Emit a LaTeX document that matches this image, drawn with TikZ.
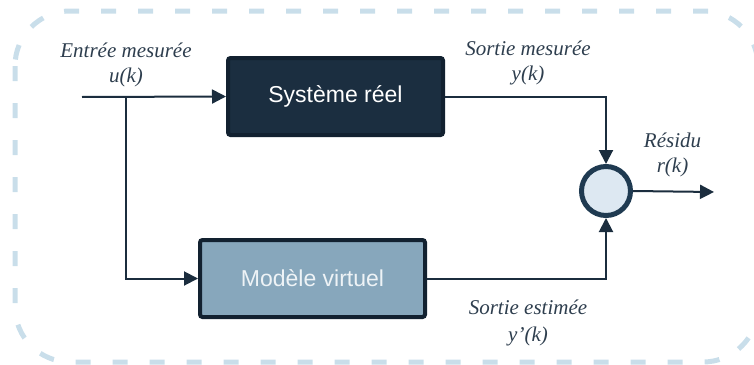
\documentclass[tikz,border=0pt]{standalone}
\usepackage{fontspec}
\setmainfont{Liberation Serif}
\setsansfont{Liberation Sans}
\usetikzlibrary{arrows.meta}
\definecolor{navy}{HTML}{1B2E40}
\definecolor{navyborder}{HTML}{122130}
\definecolor{slate}{HTML}{87A7BC}
\definecolor{wire}{HTML}{1B2D3E}
\definecolor{frame}{HTML}{C9DEEA}
\definecolor{labeltxt}{HTML}{2E3E4E}
\definecolor{sumfill}{HTML}{DDE8F2}
\definecolor{sumdraw}{HTML}{1F3A51}
\definecolor{modtxt}{HTML}{EEF3F6}
\tikzset{
  blockbox/.style={draw=navyborder, line width=4pt, rounded corners=2.5pt,
    font=\sffamily\fontsize{23}{27}\selectfont, inner sep=0pt},
  sigtext/.style={font=\itshape\fontsize{21}{25}\selectfont, text=labeltxt, align=center, inner sep=0pt},
  wireline/.style={draw=wire, line width=2pt},
  arr/.style={wireline, -{Triangle[length=14pt,width=14pt]}},
}
\begin{document}
\begin{tikzpicture}[x=1pt,y=-1pt]
\useasboundingbox (0,0) rectangle (754,364);
\draw[frame, line width=5pt, rounded corners=55pt, dash pattern=on 15pt off 22pt] (15,11) rectangle (758,362);

\node[blockbox, fill=navy, text=white, minimum width=215pt, minimum height=77pt] (sys) at (335.5,96.5) {Système réel};
\node[blockbox, fill=slate, text=modtxt, minimum width=225pt, minimum height=77pt] (mod) at (312.5,278.5) {Modèle virtuel};
\node[circle, draw=sumdraw, fill=sumfill, line width=5pt, minimum size=49pt, inner sep=0pt] (sum) at (606,191) {};

\node[sigtext] (lin) at (126,65) {Entrée mesurée\\u(k)};
\node[sigtext] (lout) at (528,63) {Sortie mesurée\\y(k)};
\node[sigtext] (lres) at (672.5,155) {Résidu\\r(k)};
\node[sigtext, font=\itshape\fontsize{21}{27}\selectfont] (lest) at (528,323) {Sortie estimée\\y’(k)};

\coordinate (in) at (82,97);
\coordinate (branch) at (126,98);
\coordinate (out) at (714,192);

\draw[arr] (in) -- (sys.west);
\draw[arr] (branch) |- (mod.west);
\draw[arr] (sys.east) -| (sum.north);
\draw[arr] (mod.east) -| (sum.south);
\draw[arr] (sum.east) -- (out);
\end{tikzpicture}
\end{document}
